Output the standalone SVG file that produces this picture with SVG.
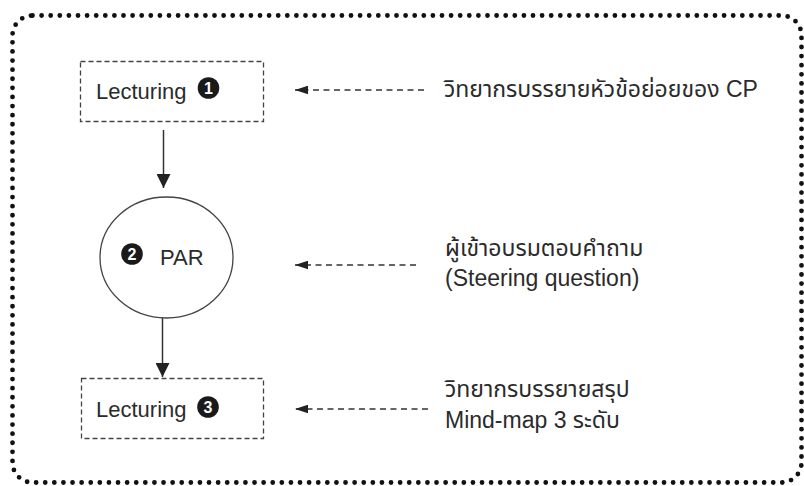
<svg xmlns="http://www.w3.org/2000/svg" width="804" height="486" viewBox="0 0 804 486">
<style>
.frame{fill:none;stroke:#111;stroke-width:4.8;stroke-linecap:round;stroke-dasharray:0 9.1}
.box{fill:#fff;stroke:#444;stroke-width:1.3;stroke-dasharray:5 3}
.ell{fill:#fff;stroke:#444;stroke-width:1.3}
.lbl{font-family:"Liberation Sans","Noto Sans Thai","Noto Sans",sans-serif;font-size:22px;fill:#2b2b2b}
.rt{font-size:23px}
.num{font-family:"Liberation Sans",sans-serif;font-size:16px;font-weight:bold;fill:#fff;text-anchor:middle}
.badge{fill:#1a1a1a}
.solid{fill:none;stroke:#333;stroke-width:1.5}
.dash{fill:none;stroke:#333;stroke-width:1.4;stroke-dasharray:6 4.5}
</style>
<defs>
<marker id="ah" markerUnits="userSpaceOnUse" markerWidth="14" markerHeight="14" viewBox="0 0 12 12" refX="12" refY="6" orient="auto">
<path d="M0,0 L12,6 L0,12 Z" fill="#222"/>
</marker>
<marker id="ahs" markerUnits="userSpaceOnUse" markerWidth="13" markerHeight="9" viewBox="0 0 12 8" refX="12" refY="4" orient="auto">
<path d="M0,0 L12,4 L0,8 Z" fill="#222"/>
</marker>
</defs>
<rect class="frame" x="12.5" y="15.5" width="789" height="467" rx="20" ry="20"/>
<g id="connectors">
<line class="solid" x1="163.5" y1="130" x2="163.5" y2="188" marker-end="url(#ah)"/>
<line class="solid" x1="162.5" y1="318" x2="162.5" y2="377" marker-end="url(#ah)"/>
<line class="dash" x1="424" y1="90" x2="295" y2="90" marker-end="url(#ahs)"/>
<line class="dash" x1="416" y1="265" x2="295" y2="265" marker-end="url(#ahs)"/>
<line class="dash" x1="428" y1="409" x2="295" y2="409" marker-end="url(#ahs)"/>
</g>
<g id="lecturing1">
<rect class="box" x="80.5" y="61.5" width="183" height="60"/>
<text class="lbl" x="96" y="99">Lecturing</text>
<circle class="badge" cx="208.5" cy="88" r="10.8"/>
<text class="num" x="208.5" y="93.5">1</text>
</g>
<g id="par">
<ellipse class="ell" cx="166.5" cy="257.5" rx="66.5" ry="60.5"/>
<circle class="badge" cx="132" cy="254" r="10.8"/>
<text class="num" x="132" y="259.5">2</text>
<text class="lbl" x="160" y="265">PAR</text>
</g>
<g id="lecturing3">
<rect class="box" x="81.5" y="378.5" width="182" height="60"/>
<text class="lbl" x="96" y="417">Lecturing</text>
<circle class="badge" cx="208" cy="407" r="10.8"/>
<text class="num" x="208" y="412.5">3</text>
</g>
<g id="note1">
<text class="lbl rt" x="444" y="97">วิทยากรบรรยายหัวข้อย่อยของ CP</text>
</g>
<g id="note2">
<text class="lbl rt" x="445" y="256">ผู้เข้าอบรมตอบคำถาม</text>
<text class="lbl rt" x="445" y="286">(Steering question)</text>
</g>
<g id="note3">
<text class="lbl rt" x="445" y="397">วิทยากรบรรยายสรุป</text>
<text class="lbl rt" x="445" y="428">Mind-map 3 ระดับ</text>
</g>
</svg>
